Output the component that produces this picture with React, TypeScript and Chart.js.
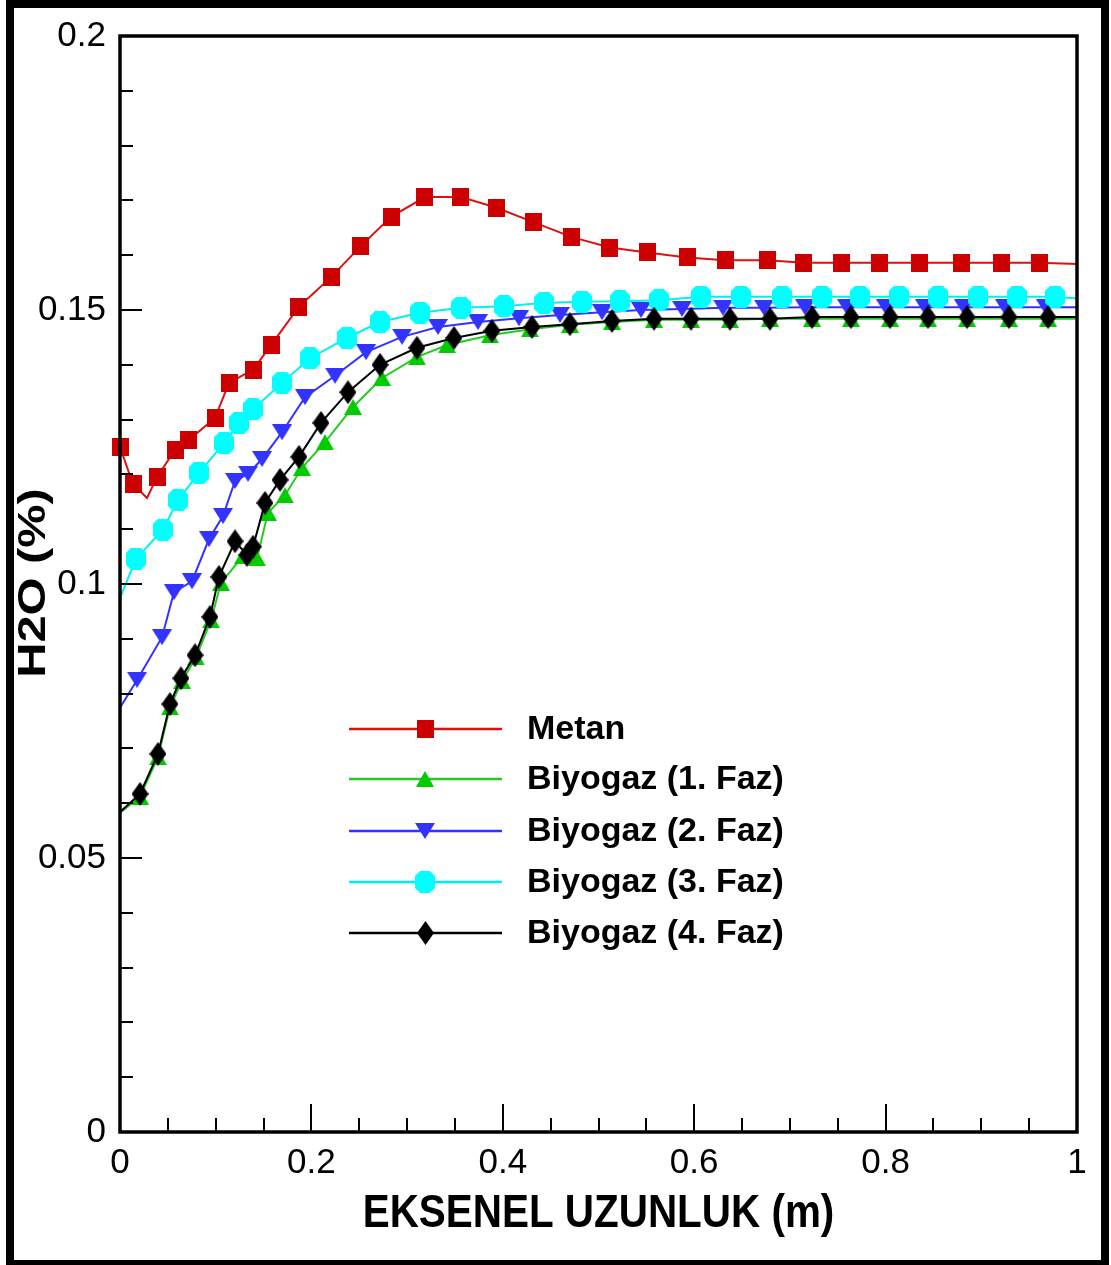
import React, { useEffect, useRef } from 'react';
import { Chart, registerables } from 'chart.js';

Chart.register(...registerables);

const seriesNames = ['Metan', 'Biyogaz (1. Faz)', 'Biyogaz (2. Faz)', 'Biyogaz (3. Faz)', 'Biyogaz (4. Faz)'];

const xTickValues = [0, 0.2, 0.4, 0.6, 0.8, 1];
const xTickLabels = ['0', '0.2', '0.4', '0.6', '0.8', '1'];
const yTickValues = [0, 0.05, 0.1, 0.15, 0.2];
const yTickLabels = ['0', '0.05', '0.1', '0.15', '0.2'];

const xAxisTitle = 'EKSENEL UZUNLUK (m)';
const yAxisTitle = 'H2O (%)';

// Metan (marker points)
const metanX = [0, 0.0136, 0.0387, 0.0575, 0.0721, 0.0993, 0.1139, 0.139, 0.1578, 0.187, 0.2205, 0.2518, 0.2832, 0.3187, 0.3563, 0.3929, 0.4326, 0.4723, 0.512, 0.5507, 0.5925, 0.6322, 0.6761, 0.7147, 0.7544, 0.7941, 0.8359, 0.8798, 0.9206, 0.9603];
const metanY = [0.125, 0.1182, 0.1195, 0.1245, 0.1263, 0.1303, 0.1367, 0.1391, 0.1436, 0.1506, 0.156, 0.1617, 0.167, 0.1706, 0.1706, 0.1687, 0.166, 0.1633, 0.1614, 0.1605, 0.1596, 0.1591, 0.1591, 0.1586, 0.1586, 0.1586, 0.1586, 0.1586, 0.1586, 0.1586];
// Metan (line-only points)
const metanLineX = [0.0282, 1];
const metanLineY = [0.1157, 0.1584];

// Biyogaz (1. Faz)
const faz1X = [0.0209, 0.0397, 0.0522, 0.0648, 0.0794, 0.0951, 0.1055, 0.1285, 0.1432, 0.1546, 0.1724, 0.1902, 0.2142, 0.2435, 0.2738, 0.3103, 0.3417, 0.3866, 0.4284, 0.4702, 0.5141, 0.558, 0.5967, 0.6374, 0.6792, 0.7231, 0.7638, 0.8046, 0.8443, 0.8851, 0.9289, 0.9697];
const faz1Y = [0.0612, 0.0684, 0.0775, 0.0823, 0.0866, 0.0934, 0.1002, 0.1051, 0.1047, 0.113, 0.1162, 0.1212, 0.1259, 0.1323, 0.1376, 0.1414, 0.1436, 0.1454, 0.1465, 0.1473, 0.1478, 0.1482, 0.1482, 0.1482, 0.1484, 0.1484, 0.1484, 0.1484, 0.1484, 0.1484, 0.1484, 0.1484];
const faz1LineX = [0, 1];
const faz1LineY = [0.0582, 0.1484];

// Biyogaz (2. Faz)
const faz2X = [0.0178, 0.0439, 0.0564, 0.0752, 0.093, 0.1076, 0.1202, 0.1338, 0.1484, 0.1693, 0.1933, 0.2247, 0.2571, 0.2947, 0.3323, 0.3741, 0.4169, 0.4598, 0.5037, 0.5444, 0.5873, 0.6301, 0.6729, 0.7158, 0.7597, 0.8004, 0.8412, 0.8819, 0.9248, 0.9676];
const faz2Y = [0.0825, 0.0903, 0.0985, 0.1005, 0.1082, 0.1124, 0.1188, 0.1201, 0.1228, 0.1277, 0.1341, 0.138, 0.1423, 0.1451, 0.1469, 0.1478, 0.1485, 0.1491, 0.1496, 0.15, 0.1502, 0.1504, 0.1504, 0.1505, 0.1505, 0.1505, 0.1505, 0.1505, 0.1505, 0.1505];
const faz2LineX = [0, 1];
const faz2LineY = [0.0774, 0.1505];

// Biyogaz (3. Faz)
const faz3X = [0.0167, 0.0449, 0.0606, 0.0826, 0.1087, 0.1243, 0.139, 0.1693, 0.1985, 0.2372, 0.2717, 0.3135, 0.3563, 0.4013, 0.4431, 0.4828, 0.5225, 0.5632, 0.6071, 0.6489, 0.6918, 0.7335, 0.7732, 0.814, 0.8548, 0.8966, 0.9373, 0.977];
const faz3Y = [0.1046, 0.1099, 0.1153, 0.1203, 0.1257, 0.1294, 0.1319, 0.1367, 0.1412, 0.1449, 0.1478, 0.1495, 0.1504, 0.1507, 0.1513, 0.1515, 0.1516, 0.1518, 0.1524, 0.1524, 0.1524, 0.1524, 0.1524, 0.1524, 0.1524, 0.1524, 0.1524, 0.1524];
const faz3LineX = [0, 1];
const faz3LineY = [0.0974, 0.1521];

// Biyogaz (4. Faz)
const faz4X = [0.0209, 0.0397, 0.0522, 0.0637, 0.0784, 0.094, 0.1034, 0.1202, 0.1327, 0.139, 0.1515, 0.1672, 0.187, 0.21, 0.2382, 0.2717, 0.3103, 0.349, 0.3887, 0.4305, 0.4702, 0.5141, 0.558, 0.5967, 0.6374, 0.6792, 0.7231, 0.7638, 0.8046, 0.8443, 0.8851, 0.9289, 0.9697];
const faz4Y = [0.0617, 0.069, 0.0781, 0.0828, 0.087, 0.094, 0.1013, 0.1078, 0.1053, 0.1068, 0.1148, 0.119, 0.1232, 0.1294, 0.135, 0.14, 0.1431, 0.1449, 0.1462, 0.1469, 0.1474, 0.148, 0.1484, 0.1484, 0.1484, 0.1484, 0.1487, 0.1487, 0.1487, 0.1487, 0.1487, 0.1487, 0.1487];
const faz4LineX = [0, 1];
const faz4LineY = [0.0584, 0.1487];

const FONT = "'Liberation Sans', Arial, Helvetica, sans-serif";

type Pt = { x: number; y: number; m: boolean };

function buildPoints(mx: number[], my: number[], lx: number[], ly: number[]): Pt[] {
  const pts: Pt[] = [];
  mx.forEach((x, i) => pts.push({ x, y: my[i], m: true }));
  lx.forEach((x, i) => pts.push({ x, y: ly[i], m: false }));
  pts.sort((a, b) => a.x - b.x);
  return pts;
}

function makeMarker(w: number, h: number, color: string, shape: string): HTMLCanvasElement {
  const c = document.createElement('canvas');
  c.width = w;
  c.height = h;
  const g = c.getContext('2d')!;
  g.fillStyle = color;
  g.beginPath();
  if (shape === 'square') {
    g.rect(0, 0, w, h);
  } else if (shape === 'up') {
    g.moveTo(w / 2, 0);
    g.lineTo(w, h);
    g.lineTo(0, h);
    g.closePath();
  } else if (shape === 'down') {
    g.moveTo(0, 0);
    g.lineTo(w, 0);
    g.lineTo(w / 2, h);
    g.closePath();
  } else if (shape === 'oct') {
    const cx = 5, cy = 5;
    g.moveTo(cx, 0);
    g.lineTo(w - cx, 0);
    g.lineTo(w, cy);
    g.lineTo(w, h - cy);
    g.lineTo(w - cx, h);
    g.lineTo(cx, h);
    g.lineTo(0, h - cy);
    g.lineTo(0, cy);
    g.closePath();
  } else if (shape === 'diamond') {
    g.moveTo(w / 2, 0);
    g.lineTo(w, h / 2);
    g.lineTo(w / 2, h);
    g.lineTo(0, h / 2);
    g.closePath();
  }
  g.fill();
  return c;
}

export default function App() {
  const canvasRef = useRef<HTMLCanvasElement | null>(null);

  useEffect(() => {
    const canvas = canvasRef.current;
    if (!canvas) return;

    const markers = [
      makeMarker(17, 18, '#CC0000', 'square'),
      makeMarker(18, 16, '#00CC00', 'up'),
      makeMarker(20, 16, '#3333FF', 'down'),
      makeMarker(20, 22, '#00FFFF', 'oct'),
      makeMarker(17, 24, '#000000', 'diamond'),
    ];
    const lineColors = ['#DD1111', '#22CC22', '#3333FF', '#00F0F0', '#000000'];

    const allData = [
      buildPoints(metanX, metanY, metanLineX, metanLineY),
      buildPoints(faz1X, faz1Y, faz1LineX, faz1LineY),
      buildPoints(faz2X, faz2Y, faz2LineX, faz2LineY),
      buildPoints(faz3X, faz3Y, faz3LineX, faz3LineY),
      buildPoints(faz4X, faz4Y, faz4LineX, faz4LineY),
    ];

    const datasets = allData.map((data, i) => ({
      label: seriesNames[i],
      data,
      borderColor: lineColors[i],
      backgroundColor: lineColors[i],
      borderWidth: 2,
      tension: 0,
      pointStyle: markers[i],
      pointRadius: (ctx: any) => (ctx.raw && ctx.raw.m ? 8 : 0),
      pointHoverRadius: (ctx: any) => (ctx.raw && ctx.raw.m ? 8 : 0),
      clip: false as any,
      order: 10 - i,
    }));

    const decorPlugin = {
      id: 'decor',
      afterDatasetsDraw(chart: any) {
        const ctx = chart.ctx as CanvasRenderingContext2D;
        const a = chart.chartArea;
        const xs = chart.scales.x;
        const ys = chart.scales.y;
        ctx.save();
        ctx.strokeStyle = '#000';
        ctx.lineCap = 'butt';
        // ticks
        ctx.lineWidth = 2;
        for (let k = 0; k <= 20; k++) {
          const v = k * 0.01;
          const major = yTickValues.some((t) => Math.abs(t - v) < 1e-9);
          const py = Math.round(ys.getPixelForValue(v));
          const len = major ? 22 : 13;
          ctx.beginPath();
          ctx.moveTo(a.left, py);
          ctx.lineTo(a.left + len, py);
          ctx.stroke();
        }
        for (let k = 0; k <= 20; k++) {
          const v = k * 0.05;
          const major = xTickValues.some((t) => Math.abs(t - v) < 1e-9);
          const px = Math.round(xs.getPixelForValue(v));
          const len = major ? 28 : 14;
          ctx.beginPath();
          ctx.moveTo(px, a.bottom);
          ctx.lineTo(px, a.bottom - len);
          ctx.stroke();
        }
        // frame
        ctx.lineWidth = 3.5;
        ctx.strokeRect(a.left, a.top, a.right - a.left, a.bottom - a.top);

        // legend
        const lx0 = a.left + 229;
        const lx1 = a.left + 382;
        const mxp = a.left + 305;
        const tx = a.left + 407;
        const ly = [729, 779, 831, 882, 933];
        ctx.font = `bold 34px ${FONT}`;
        ctx.textBaseline = 'middle';
        ctx.textAlign = 'left';
        seriesNames.forEach((name, i) => {
          const y = ly[i];
          ctx.strokeStyle = lineColors[i];
          ctx.lineWidth = 2.5;
          ctx.beginPath();
          ctx.moveTo(lx0, y);
          ctx.lineTo(lx1, y);
          ctx.stroke();
          const mk = markers[i];
          ctx.drawImage(mk, Math.round(mxp - mk.width / 2), Math.round(y - mk.height / 2));
          ctx.fillStyle = '#000';
          ctx.fillText(name, tx, y + 1);
        });

        // axis titles
        ctx.fillStyle = '#000';
        ctx.textAlign = 'center';
        ctx.textBaseline = 'alphabetic';
        ctx.save();
        ctx.translate((a.left + a.right) / 2, 1227);
        ctx.scale(0.86, 1);
        ctx.font = `bold 47px ${FONT}`;
        ctx.fillText(xAxisTitle, 0, 0);
        ctx.restore();

        ctx.save();
        ctx.translate(45, 583);
        ctx.rotate(-Math.PI / 2);
        ctx.scale(1.25, 1);
        ctx.font = `bold 39px ${FONT}`;
        ctx.fillText(yAxisTitle, 0, 0);
        ctx.restore();

        ctx.restore();
      },
    };

    const chart = new Chart(canvas, {
      type: 'line',
      data: { datasets: datasets as any },
      options: {
        animation: false,
        responsive: false,
        maintainAspectRatio: false,
        events: [],
        layout: { padding: { left: 0, top: 36, right: 34, bottom: 0 } },
        plugins: {
          legend: { display: false },
          tooltip: { enabled: false },
          title: { display: false },
        },
        scales: {
          x: {
            type: 'linear',
            min: 0,
            max: 1,
            grid: { display: false, drawTicks: false },
            border: { display: false },
            afterBuildTicks: (s: any) => {
              s.ticks = xTickValues.map((v) => ({ value: v }));
            },
            afterFit: (s: any) => {
              s.height = 133;
            },
            ticks: {
              autoSkip: false,
              maxRotation: 0,
              padding: 10,
              color: '#000',
              font: { family: FONT, size: 35 },
              callback: (v: any) => {
                const i = xTickValues.findIndex((t) => Math.abs(t - v) < 1e-9);
                return i >= 0 ? xTickLabels[i] : '';
              },
            },
          },
          y: {
            type: 'linear',
            min: 0,
            max: 0.2,
            grid: { display: false, drawTicks: false },
            border: { display: false },
            afterBuildTicks: (s: any) => {
              s.ticks = yTickValues.map((v) => ({ value: v }));
            },
            afterFit: (s: any) => {
              s.width = 120;
            },
            ticks: {
              autoSkip: false,
              padding: 14,
              color: '#000',
              font: { family: FONT, size: 35 },
              callback: (v: any) => {
                const i = yTickValues.findIndex((t) => Math.abs(t - v) < 1e-9);
                return i >= 0 ? yTickLabels[i] : '';
              },
            },
          },
        },
      },
      plugins: [decorPlugin],
    });

    return () => {
      chart.destroy();
    };
  }, []);

  return (
    <div style={{ position: 'absolute', left: 0, top: 0, width: 1111, height: 1265, background: '#fff', overflow: 'hidden' }}>
      <div
        style={{
          position: 'absolute',
          left: 6,
          top: 0,
          width: 1103,
          height: 1265,
          boxSizing: 'border-box',
          borderTop: '8px solid #000',
          borderLeft: '8px solid #000',
          borderRight: '8px solid #000',
          borderBottom: '5px solid #000',
        }}
      />
      <canvas
        ref={canvasRef}
        width={1111}
        height={1265}
        style={{ position: 'absolute', left: 0, top: 0, display: 'block' }}
      />
    </div>
  );
}
